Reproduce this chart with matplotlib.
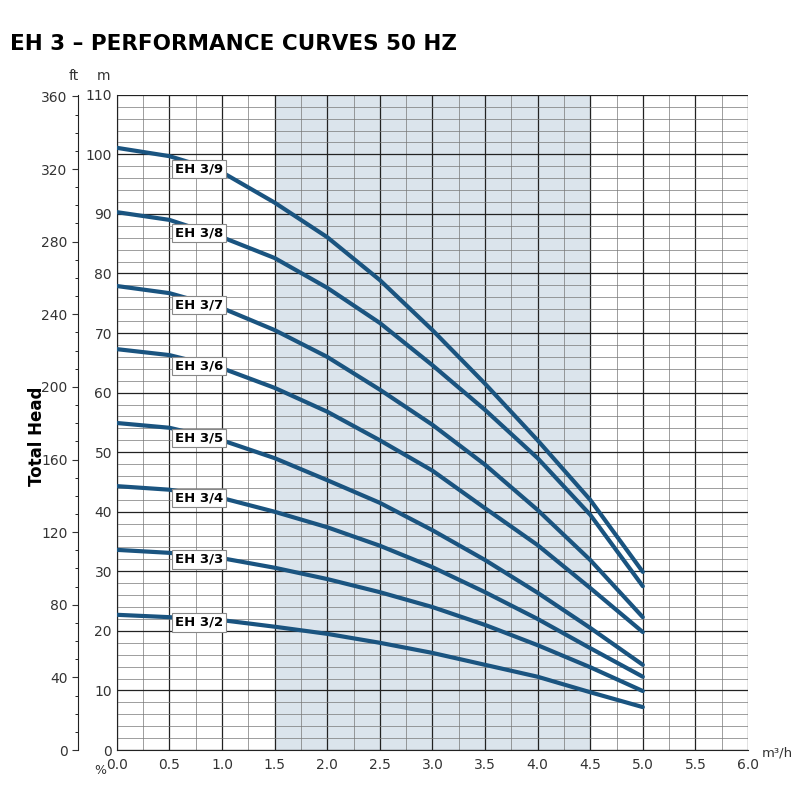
import numpy as np
import matplotlib.pyplot as plt
from matplotlib.ticker import MultipleLocator

# flow (m3/h) and head (m)
flow = [0, 0.5, 1.0, 1.5, 2.0, 2.5, 3.0, 3.5, 4.0, 4.5, 5.0]
eh9 = [101.1, 99.7, 97.0, 91.9, 86.1, 78.9, 70.5, 61.5, 52.0, 42.0, 29.9]
eh8 = [90.3, 89.0, 86.1, 82.6, 77.6, 71.7, 64.6, 57.1, 49.0, 39.5, 27.5]
eh7 = [77.9, 76.7, 74.2, 70.5, 66.0, 60.5, 54.6, 47.9, 40.3, 31.9, 22.3]
eh6 = [67.3, 66.3, 64.1, 60.8, 56.8, 52.0, 46.9, 40.6, 34.4, 27.2, 19.8]
eh5 = [54.9, 54.1, 52.0, 49.0, 45.3, 41.5, 36.9, 31.9, 26.4, 20.5, 14.3]
eh4 = [44.3, 43.7, 42.3, 40.0, 37.4, 34.3, 30.7, 26.5, 22.0, 17.1, 12.3]
eh3 = [33.6, 33.1, 32.2, 30.6, 28.7, 26.5, 24.0, 21.0, 17.6, 13.9, 9.9]
eh2 = [22.7, 22.3, 21.8, 20.7, 19.5, 18.0, 16.3, 14.3, 12.3, 9.7, 7.2]
curves = [eh9, eh8, eh7, eh6, eh5, eh4, eh3, eh2]
names = ['EH 3/9', 'EH 3/8', 'EH 3/7', 'EH 3/6', 'EH 3/5', 'EH 3/4', 'EH 3/3', 'EH 3/2']
label_x = 0.78

fig = plt.figure(figsize=(8, 8), dpi=100)
ax = fig.add_axes([0.146, 0.0625, 0.789, 0.819])
ax.axvspan(1.5, 4.5, color='#dbe4ec', zorder=0)
ax.set_xlim(0, 6)
ax.set_ylim(0, 110)
ax.xaxis.set_major_locator(MultipleLocator(0.5))
ax.xaxis.set_minor_locator(MultipleLocator(0.25))
ax.yaxis.set_major_locator(MultipleLocator(10))
ax.yaxis.set_minor_locator(MultipleLocator(2))
ax.grid(which='major', color='#222222', lw=0.9, zorder=1)
ax.grid(which='minor', color='#777777', lw=0.5, zorder=1)
for s in ax.spines.values():
    s.set_color('#222222')
ax.spines['top'].set_visible(False)
ax.spines['right'].set_visible(False)
ax.tick_params(which='both', length=0, labelsize=10, colors='#333333')
ax.tick_params(axis='x', pad=6)
ax.set_xticklabels(['%.1f' % v for v in np.arange(-0.5, 6.6, 0.5)])

for y, n in zip(curves, names):
    ax.plot(flow, y, color='#1a5480', lw=3, solid_capstyle='round', zorder=3)
    ly = np.interp(label_x, flow, y)
    ax.text(label_x, ly - 0.6, n, fontsize=9.5, fontweight='bold', ha='center', va='center', zorder=4,
            bbox=dict(boxstyle='square,pad=0.2', fc='white', ec='#888888', lw=0.8))

# ft axis
axf = ax.twinx()
axf.set_ylim(0, 110 * 3.2808)
axf.yaxis.set_ticks_position('left')
axf.yaxis.set_label_position('left')
axf.spines['left'].set_position(('outward', 28))
for k in ['right', 'top', 'bottom']:
    axf.spines[k].set_visible(False)
axf.spines['left'].set_color('#222222')
axf.yaxis.set_major_locator(MultipleLocator(40))
axf.yaxis.set_minor_locator(MultipleLocator(10))
axf.tick_params(which='major', length=4, labelsize=10, colors='#333333')
axf.tick_params(which='minor', length=2.5)

fig.text(0.012, 0.945, 'EH 3 – PERFORMANCE CURVES 50 HZ', fontsize=15.5, fontweight='bold',
         va='center')
fig.text(0.092, 0.9, 'ft', fontsize=10, color='#333333', ha='center')
fig.text(0.13, 0.9, 'm', fontsize=10, color='#333333', ha='center')
fig.text(0.125, 0.032, '%', fontsize=9, color='#333333', ha='center')
fig.text(0.952, 0.055, 'm³/h', fontsize=9.5, color='#333333', ha='left')
fig.text(0.046, 0.455, 'Total Head', fontsize=12, fontweight='bold', rotation=90, va='center', ha='center')

fig.savefig('out.png', dpi=100)
